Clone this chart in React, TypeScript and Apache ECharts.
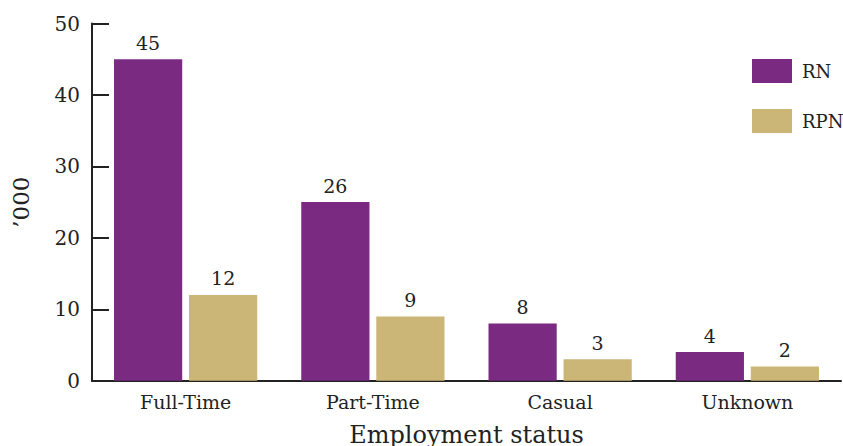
import React, { useEffect, useRef } from "react";
import * as echarts from "echarts";

const categories = ["Full-Time", "Part-Time", "Casual", "Unknown"];
const rnValues = [45, 25, 8, 4];
const rpnValues = [12, 9, 3, 2];
const rnLabels = ["45", "26", "8", "4"];
const rpnLabels = ["12", "9", "3", "2"];
const yTicks = [0, 10, 20, 30, 40, 50];

const FONT = "DejaVu Serif";
const TEXT = "#222222";

export default function App() {
  const ref = useRef<HTMLDivElement>(null);
  useEffect(() => {
    if (!ref.current) return;
    const chart = echarts.init(ref.current, undefined, { renderer: "svg" });
    chart.setOption({
      animation: false,
      textStyle: { fontFamily: FONT, color: TEXT },
      grid: {
        left: 92,
        right: 2,
        top: 23.5,
        bottom: 65.3,
        containLabel: false,
        outerBoundsMode: "none",
      },
      legend: {
        orient: "vertical",
        left: 752,
        top: 59,
        padding: 0,
        itemWidth: 40,
        itemHeight: 24,
        itemGap: 26,
        icon: "rect",
        textStyle: { fontFamily: FONT, fontSize: 18, color: TEXT, padding: [0, 0, 0, 5] },
        data: ["RN", "RPN"],
      },
      xAxis: {
        type: "category",
        data: categories,
        name: "Employment status",
        nameLocation: "middle",
        nameGap: 42,
        nameTextStyle: { fontFamily: FONT, fontSize: 24, color: TEXT },
        axisLine: { lineStyle: { color: TEXT, width: 2 } },
        axisTick: { inside: true, length: 8, lineStyle: { color: TEXT, width: 2 } },
        axisLabel: { fontFamily: FONT, fontSize: 19, color: TEXT, margin: 12 },
      },
      yAxis: {
        type: "value",
        min: yTicks[0],
        max: yTicks[yTicks.length - 1],
        interval: 10,
        name: "’000",
        nameLocation: "middle",
        nameGap: 60,
        nameTextStyle: { fontFamily: FONT, fontSize: 23, color: TEXT },
        splitLine: { show: false },
        axisLine: { show: true, lineStyle: { color: TEXT, width: 2 } },
        axisTick: { show: true, inside: true, length: 17, lineStyle: { color: TEXT, width: 2 } },
        axisLabel: { fontFamily: FONT, fontSize: 20, color: TEXT, margin: 12 },
      },
      series: [
        {
          name: "RN",
          type: "bar",
          data: rnValues,
          barGap: "10%",
          barCategoryGap: "23.5%",
          itemStyle: { color: "#7b2a82" },
          label: {
            show: true,
            position: "top",
            distance: 7,
            fontFamily: FONT,
            fontSize: 19,
            color: TEXT,
            formatter: (p: any) => rnLabels[p.dataIndex],
          },
        },
        {
          name: "RPN",
          type: "bar",
          data: rpnValues,
          barGap: "10%",
          barCategoryGap: "23.5%",
          itemStyle: { color: "#cbb677" },
          label: {
            show: true,
            position: "top",
            distance: 7,
            fontFamily: FONT,
            fontSize: 19,
            color: TEXT,
            formatter: (p: any) => rpnLabels[p.dataIndex],
          },
        },
      ],
    });
    return () => chart.dispose();
  }, []);
  return <div ref={ref} style={{ width: 843, height: 446, position: "absolute", left: 0, top: 0 }} />;
}
